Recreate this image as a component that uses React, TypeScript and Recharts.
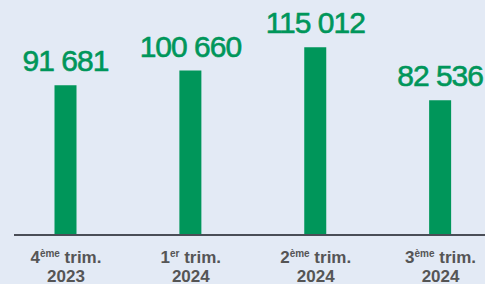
import React from 'react';
import { BarChart, Bar, XAxis, YAxis, LabelList } from 'recharts';

const categories = ['4ème trim. 2023', '1er trim. 2024', '2ème trim. 2024', '3ème trim. 2024'];
const values = [91681, 100660, 115012, 82536];
const tickOrdinals = ['4', '1', '2', '3'];
const tickSups = ['ème', 'er', 'ème', 'ème'];
const tickYears = ['2023', '2024', '2024', '2024'];

const data = categories.map((c, i) => ({ name: c, value: values[i] }));

const GREEN = '#00965A';
const FONT = '"Liberation Sans", Arial, sans-serif';

const fmt = (v: any) => String(v).replace(/\B(?=(\d{3})+(?!\d))/g, ' ');

const Tick = (props: any) => {
  const { x, y, index } = props;
  return (
    <text x={x} y={y} textAnchor="middle" fill="#555555" fontFamily={FONT} fontWeight="bold" fontSize={17}>
      <tspan x={x} dy={20}>
        {tickOrdinals[index]}
        <tspan fontSize={10} dy={-6}>{tickSups[index]}</tspan>
        <tspan dy={6}> trim.</tspan>
      </tspan>
      <tspan x={x} dy={19}>{tickYears[index]}</tspan>
    </text>
  );
};

const ValueLabel = (props: any) => {
  const { x, y, width, value } = props;
  return (
    <text
      x={Number(x) + Number(width) / 2}
      y={Number(y) - 14}
      textAnchor="middle"
      fill={GREEN}
      stroke={GREEN}
      strokeWidth={0.6}
      fontFamily={FONT}
      fontSize={30}
      letterSpacing={-1}
    >
      {fmt(value)}
    </text>
  );
};

export default function App() {
  return (
    <div style={{ position: 'fixed', left: 0, top: 0, width: 485, height: 284, background: '#E3EAF5' }}>
      <BarChart width={485} height={284} data={data} margin={{ top: 39, right: 0, bottom: 0, left: 14 }}>
        <YAxis hide domain={[0, 120000]} />
        <XAxis
          dataKey="name"
          height={49}
          padding={{ left: -10.5, right: -18 }}
          axisLine={{ stroke: '#4A4E57', strokeWidth: 2 }}
          tickLine={false}
          tick={<Tick />}
          interval={0}
        />
        <Bar dataKey="value" fill={GREEN} barSize={22} isAnimationActive={false}>
          <LabelList dataKey="value" content={<ValueLabel />} />
        </Bar>
      </BarChart>
    </div>
  );
}
